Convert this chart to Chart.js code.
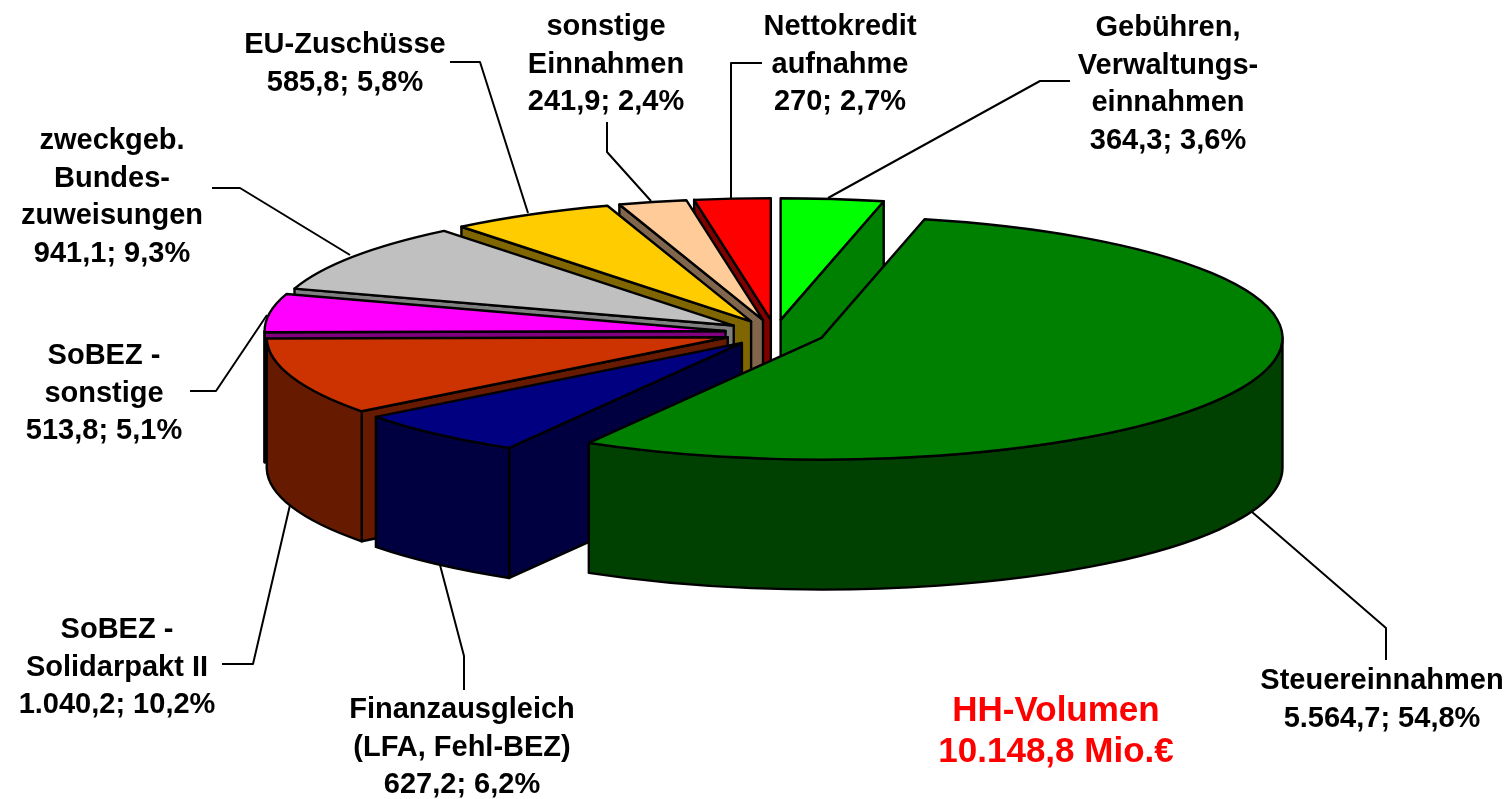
<!DOCTYPE html>
<html lang="de">
<head>
<meta charset="utf-8">
<title>HH-Volumen</title>
<script src="https://cdn.jsdelivr.net/npm/chart.js@4/dist/chart.umd.min.js"></script>
<style>
  html, body { margin: 0; padding: 0; background: #fff; }
  canvas { display: block; }
</style>
</head>
<body>
<canvas id="pie" width="1510" height="799"></canvas>
<script>
var categories = [
  ['Gebühren,', 'Verwaltungs-', 'einnahmen'],
  ['Steuereinnahmen'],
  ['Finanzausgleich', '(LFA, Fehl-BEZ)'],
  ['SoBEZ -', 'Solidarpakt II'],
  ['SoBEZ -', 'sonstige'],
  ['zweckgeb.', 'Bundes-', 'zuweisungen'],
  ['EU-Zuschüsse'],
  ['sonstige', 'Einnahmen'],
  ['Nettokredit', 'aufnahme']
];
var values = [364.3, 5564.7, 627.2, 1040.2, 513.8, 941.1, 585.8, 241.9, 270];
var valueLabels = ['364,3; 3,6%', '5.564,7; 54,8%', '627,2; 6,2%', '1.040,2; 10,2%', '513,8; 5,1%', '941,1; 9,3%', '585,8; 5,8%', '241,9; 2,4%', '270; 2,7%'];
var totalLabel = ['HH-Volumen', '10.148,8 Mio.€'];

var topColors = ['#00ff00', '#008000', '#000080', '#cc3300', '#ff00ff', '#c0c0c0', '#ffcc00', '#ffcc99', '#ff0000'];
var wallColors = ['#008000', '#004000', '#000040', '#661a00', '#800080', '#808080', '#806600', '#80664d', '#800000'];

// label centre x, first line centre y
var labelPos = [[1168, 28], [1382, 681], [462, 710], [117, 630], [104, 356], [112, 141], [345, 45], [606, 27], [840, 27]];
var totalPos = [1056, 711];
var leaderLines = [
  [[828, 198], [1040, 81], [1070, 81]],
  [[1252, 512], [1386, 628], [1386, 660]],
  [[440, 565], [464, 656], [464, 690]],
  [[290, 505], [253, 664], [222, 664]],
  [[267, 315], [216, 391], [190, 391]],
  [[350, 255], [240, 188], [212, 188]],
  [[528, 213], [480, 62], [450, 62]],
  [[651, 201], [607, 152], [607, 122]],
  [[731, 199], [731, 63], [762, 63]]
];

var RADIUS = 461;
var SQUASH = 0.264;
var DEPTH = 130;
var EXPLODE = 50;
var LINE_H = 37.5;
var wallOrder = [0, 8, 7, 6, 5, 4, 3, 2, 1];

function screenX(arc) { return arc.x; }
function screenY(arc, cy) { return cy + (arc.y - cy) * SQUASH; }

function traceTop(ctx, arc, cy) {
  var x = screenX(arc), y = screenY(arc, cy), r = arc.outerRadius;
  ctx.beginPath();
  ctx.moveTo(x, y);
  ctx.ellipse(x, y, r, r * SQUASH, 0, arc.startAngle, arc.endAngle);
  ctx.closePath();
}

function fillWall(ctx, path, color) {
  ctx.fillStyle = color;
  ctx.fill(path);
  ctx.stroke(path);
}

function radialWall(ctx, arc, cy, angle, color) {
  var x = screenX(arc), y = screenY(arc, cy), r = arc.outerRadius;
  var ex = x + Math.cos(angle) * r, ey = y + Math.sin(angle) * r * SQUASH;
  var p = new Path2D();
  p.moveTo(x, y);
  p.lineTo(ex, ey);
  p.lineTo(ex, ey + DEPTH);
  p.lineTo(x, y + DEPTH);
  p.closePath();
  fillWall(ctx, p, color);
}

function outerWall(ctx, arc, cy, color) {
  // only the front half of the rim can be seen
  var from = Math.max(arc.startAngle, 0);
  var to = Math.min(arc.endAngle, Math.PI);
  if (to <= from) return;
  var x = screenX(arc), y = screenY(arc, cy), r = arc.outerRadius;
  var p = new Path2D();
  p.ellipse(x, y, r, r * SQUASH, 0, from, to);
  p.ellipse(x, y + DEPTH, r, r * SQUASH, 0, to, from, true);
  p.closePath();
  fillWall(ctx, p, color);
}

var pie3d = {
  id: 'pie3d',
  afterDatasetsUpdate: function (chart) {
    var area = chart.chartArea;
    var cx = (area.left + area.right) / 2, cy = (area.top + area.bottom) / 2;
    chart.getDatasetMeta(0).data.forEach(function (arc) {
      var mid = (arc.startAngle + arc.endAngle) / 2;
      arc.x = cx + Math.cos(mid) * EXPLODE;
      arc.y = cy + Math.sin(mid) * EXPLODE;
    });
  },
  beforeDatasetsDraw: function (chart) {
    var ctx = chart.ctx, area = chart.chartArea;
    var cx = (area.left + area.right) / 2, cy = (area.top + area.bottom) / 2;
    var arcs = chart.getDatasetMeta(0).data;

    ctx.save();
    ctx.strokeStyle = '#000';
    ctx.lineWidth = 2.4;
    ctx.lineJoin = 'round';
    wallOrder.forEach(function (i) {
      var arc = arcs[i];
      if (Math.sin(arc.startAngle - Math.PI / 2) > 0.001) radialWall(ctx, arc, cy, arc.startAngle, wallColors[i]);
      if (Math.sin(arc.endAngle + Math.PI / 2) > 0.001) radialWall(ctx, arc, cy, arc.endAngle, wallColors[i]);
      outerWall(ctx, arc, cy, wallColors[i]);
    });
    ctx.restore();

    // tops are drawn by the library, flattened to an ellipse
    ctx.save();
    ctx.translate(cx, cy);
    ctx.scale(1, SQUASH);
    ctx.translate(-cx, -cy);
  },
  afterDatasetsDraw: function (chart) {
    var ctx = chart.ctx, area = chart.chartArea;
    var cy = (area.top + area.bottom) / 2;
    var arcs = chart.getDatasetMeta(0).data;
    ctx.restore();

    ctx.save();
    ctx.strokeStyle = '#000';
    ctx.lineWidth = 2.4;
    ctx.lineJoin = 'round';
    arcs.forEach(function (arc) {
      traceTop(ctx, arc, cy);
      ctx.stroke();
    });

    ctx.lineWidth = 2;
    leaderLines.forEach(function (line) {
      ctx.beginPath();
      line.forEach(function (pt, n) {
        if (n === 0) ctx.moveTo(pt[0], pt[1]); else ctx.lineTo(pt[0], pt[1]);
      });
      ctx.stroke();
    });

    ctx.textAlign = 'center';
    ctx.textBaseline = 'middle';
    ctx.fillStyle = '#000';
    ctx.font = 'bold 29px "Liberation Sans", Arial, sans-serif';
    categories.forEach(function (lines, i) {
      var all = lines.concat([valueLabels[i]]);
      all.forEach(function (text, n) {
        ctx.fillText(text, labelPos[i][0], labelPos[i][1] + n * LINE_H);
      });
    });

    ctx.fillStyle = '#ff0000';
    ctx.font = 'bold 35px "Liberation Sans", Arial, sans-serif';
    totalLabel.forEach(function (text, n) {
      ctx.fillText(text, totalPos[0], totalPos[1] + n * 41);
    });
    ctx.restore();
  }
};

var chart = new Chart(document.getElementById('pie').getContext('2d'), {
  type: 'pie',
  data: {
    labels: categories.map(function (c) { return c.join(' '); }),
    datasets: [{
      data: values,
      backgroundColor: topColors,
      borderWidth: 0,
      radius: RADIUS,
      clip: false
    }]
  },
  options: {
    responsive: false,
    animation: false,
    events: [],
    layout: { padding: { left: 40, right: 0, top: 0, bottom: 133 } },
    plugins: { legend: { display: false }, tooltip: { enabled: false } }
  },
  plugins: [pie3d]
});
</script>
</body>
</html>
